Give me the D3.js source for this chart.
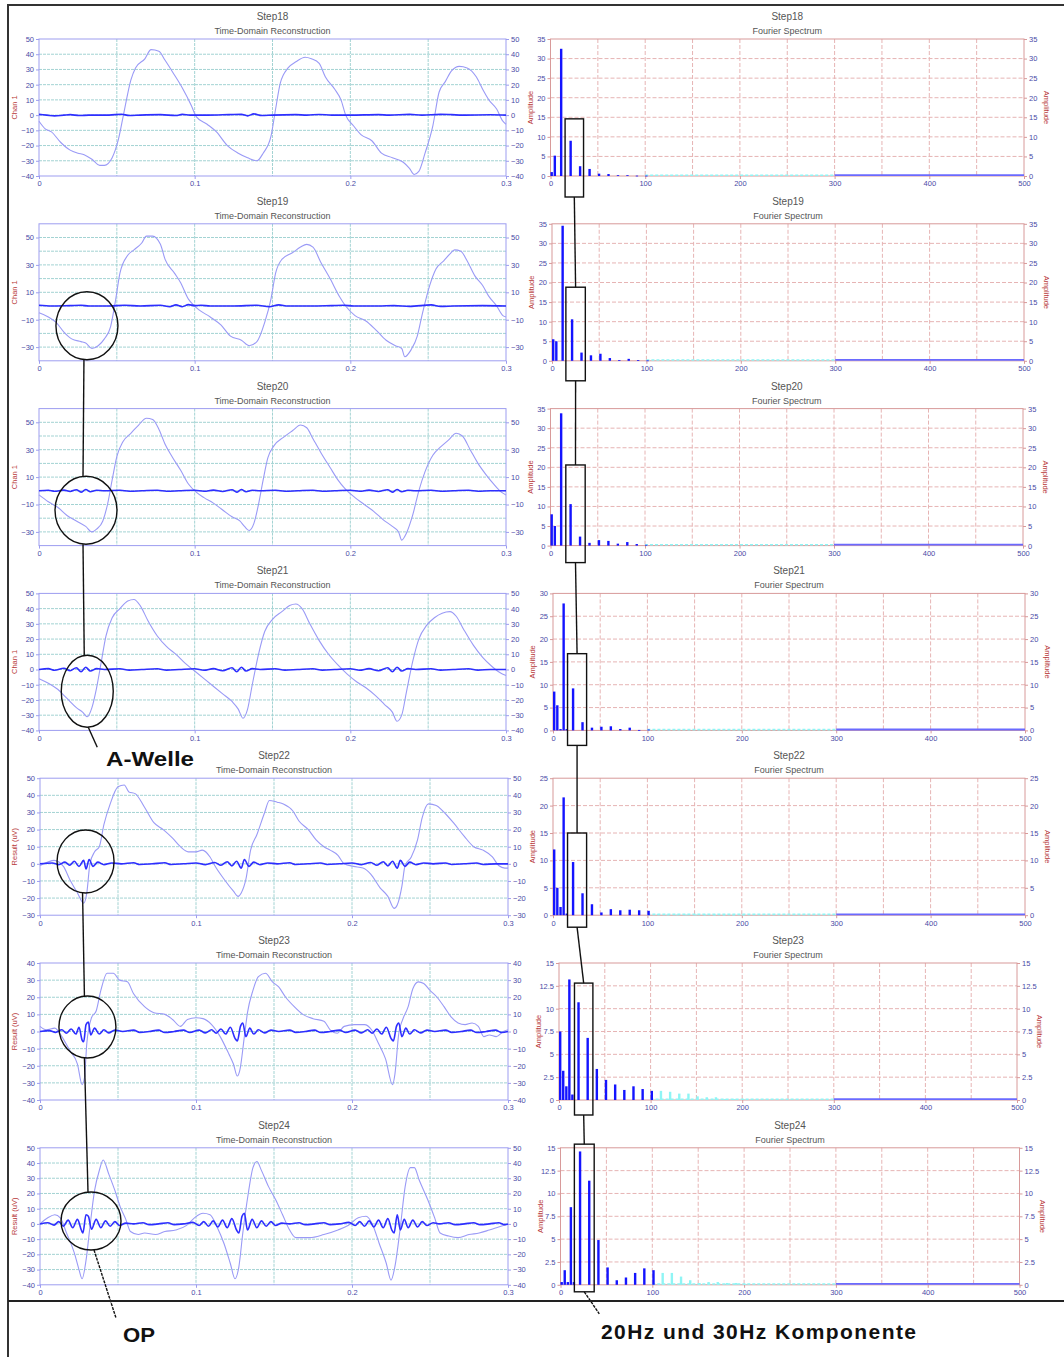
<!DOCTYPE html>
<html>
<head>
<meta charset="utf-8">
<script src="https://cdn.jsdelivr.net/npm/d3@7"></script>
<style>
body{margin:0;background:#fff}
text{font-family:"Liberation Sans",Arial,sans-serif}
</style>
</head>
<body>
<svg id="chart" width="1064" height="1357"></svg>
<script>
// ---- data ----
var stepNames=["Step18","Step19","Step20","Step21","Step22","Step23","Step24"];
var timeYTitles=["Chan 1","Chan 1","Chan 1","Chan 1","Result (uV)","Result (uV)","Result (uV)"];
var timeYDomains=[[-40,50],[-40,60],[-40,60],[-40,50],[-30,50],[-40,40],[-40,50]];
var timeYTicks=[
  [-40,-30,-20,-10,0,10,20,30,40,50],
  [-30,-10,10,30,50],
  [-30,-10,10,30,50],
  [-40,-30,-20,-10,0,10,20,30,40,50],
  [-30,-20,-10,0,10,20,30,40,50],
  [-40,-30,-20,-10,0,10,20,30,40],
  [-40,-30,-20,-10,0,10,20,30,40,50]];
var timeXTicks=[0,0.1,0.2,0.3];
var timeGridX=[0.05,0.1,0.15,0.2,0.25];

var specYDomains=[[0,35],[0,35],[0,35],[0,30],[0,25],[0,15],[0,15]];
var specYTicks=[
  [0,5,10,15,20,25,30,35],[0,5,10,15,20,25,30,35],[0,5,10,15,20,25,30,35],
  [0,5,10,15,20,25,30],[0,5,10,15,20,25],
  [0,2.5,5,7.5,10,12.5,15],[0,2.5,5,7.5,10,12.5,15]];
var specXTicks=[0,100,200,300,400,500];
var specGridX=[50,100,150,200,250,300,350,400,450];

// spectrum bins (Hz) and amplitudes per step
var freqBins=[0,3.3,6.7,10,13.3,20,30,40,50,60,70,80,90,100,110,120,130,140,150,160,170,180,190,200];
var amp18=[1.0,5.2,0,32.5,0,9.0,2.5,1.8,0.6,0.5,0.2,0.2,0.1,0.1,0,0,0,0,0,0,0,0,0,0];
var amp19=[5.5,5.0,0,34.5,0,10.6,2.1,1.4,1.8,0.7,0.2,0.5,0.2,0.1,0,0,0,0,0,0,0,0,0,0];
var amp20=[8.0,5.0,0,33.8,0,10.6,2.3,0.7,1.4,1.2,0.5,0.9,0.4,0.2,0,0,0,0,0,0,0,0,0,0];
var amp21=[8.5,5.5,0.3,27.8,0.3,9.2,1.8,0.6,0.8,0.9,0.3,0.6,0.1,0.2,0,0,0,0,0,0,0,0,0,0];
var amp22=[12,5,1.5,21.5,0.3,9.7,4.0,2.0,0.5,1.1,0.9,1.0,0.9,0.8,0.2,0.1,0.1,0.1,0.1,0.1,0.1,0.1,0.1,0.1];
var amp23=[7.5,3.2,1.5,13.2,0.6,10.7,6.8,3.4,2.2,1.7,1.1,1.5,1.2,1.0,1.0,0.9,0.7,0.7,0.4,0.3,0.3,0.1,0.1,0.1];
var amp24=[0.3,1.6,0.3,8.5,0.3,14.6,11.4,4.9,1.9,0.5,0.8,1.3,1.8,1.6,1.3,1.3,0.9,0.5,0.2,0.3,0.3,0.2,0.2,0.1];
var cyanBand=[100,300];
var blueBand=[300,500];

// raw time-domain signal, [ms, value]
var wave18=[[0,-4],[4,-9],[8,-11],[14,-18],[20,-23],[25,-25],[29,-26],[34,-29],[39,-33],[42,-33],[47,-28],[51,-16],[55,4],[59,23],[62,31],[68,37],[72,43],[77,42],[81,36],[86,28],[92,18],[98,6],[101,-1],[108,-6],[114,-11],[121,-20],[128,-25],[134,-28],[140,-30],[144,-25],[149,-14],[152,4],[155,21],[160,31],[165,35],[171,38],[175,37],[180,34],[184,25],[190,17],[194,10],[197,0],[202,-7],[207,-13],[214,-17],[220,-25],[227,-28],[234,-31],[238,-35],[241,-39],[244,-37],[248,-25],[253,-7],[257,15],[261,22],[265,29],[270,32],[275,31],[281,25],[285,17],[289,10],[294,4],[298,-4],[300,-6]];
var wave19=[[0,-5],[6,-8],[11,-12],[16,-19],[21,-24],[27,-26],[30,-27],[34,-31],[38,-29],[42,-24],[46,-15],[49,3],[52,24],[57,37],[61,41],[66,46],[69,51],[73,51],[78,45],[81,34],[87,24],[91,17],[96,5],[99,1],[103,-3],[110,-8],[117,-14],[123,-22],[130,-25],[135,-29],[140,-26],[145,-12],[149,5],[152,24],[156,34],[163,39],[168,43],[172,45],[176,43],[181,32],[187,20],[193,7],[197,0],[203,-7],[210,-11],[216,-17],[223,-25],[229,-29],[233,-31],[235,-37],[239,-32],[243,-22],[246,-7],[251,15],[255,27],[260,33],[264,38],[267,41],[271,40],[275,33],[280,22],[285,15],[289,7],[294,0],[298,-7],[300,-8]];
var wave20=[[0,-3],[6,-8],[12,-12],[18,-18],[24,-22],[30,-26],[34,-30],[37,-28],[41,-22],[44,-10],[47,8],[50,25],[54,36],[59,42],[64,48],[69,53],[73,52],[77,45],[81,34],[86,24],[91,15],[96,5],[101,-1],[106,-5],[112,-9],[118,-14],[124,-19],[129,-22],[132,-26],[135,-29],[138,-24],[141,-10],[144,8],[147,24],[151,33],[157,39],[163,44],[168,48],[172,46],[176,38],[181,28],[187,17],[192,8],[197,1],[203,-5],[209,-10],[215,-15],[221,-21],[227,-26],[231,-30],[233,-36],[236,-31],[240,-18],[244,0],[248,14],[253,26],[258,32],[263,37],[268,42],[272,40],[277,30],[282,20],[287,12],[292,5],[297,-1],[300,-3]];
var wave21=[[0,-6],[6,-9],[12,-13],[18,-19],[24,-25],[28,-28],[31,-31],[34,-25],[37,-12],[40,5],[43,22],[47,34],[52,40],[57,45],[61,46],[65,42],[70,32],[76,22],[82,15],[88,10],[94,4],[100,-1],[106,-6],[112,-11],[118,-16],[124,-21],[128,-26],[131,-32],[134,-26],[137,-10],[141,10],[145,25],[150,33],[156,38],[161,42],[165,43],[169,40],[174,30],[180,19],[186,10],[192,3],[198,-3],[204,-8],[210,-12],[216,-17],[222,-23],[227,-28],[230,-34],[233,-30],[236,-15],[240,5],[244,20],[249,29],[254,34],[259,37],[264,38],[268,35],[273,26],[279,16],[285,8],[291,2],[296,-2],[300,-4]];
var wave22=[[0,-1],[5,1],[9,2],[15,-1.5],[19,-9],[24,-17],[28,-23],[30,-17],[32,0],[35,7],[38,10],[41,23],[45,35],[50,45],[54,46],[57,42],[61,41],[67,33],[73,24],[79,20],[85,15],[90,10],[95,7],[100,7],[104,8],[109,4],[112,-1],[118,-9],[124,-16],[127,-19],[129,-17],[132,-9],[135,8],[139,17],[144,30],[147,37],[152,36],[156,35],[162,31],[166,25],[172,20],[177,14],[182,10],[186,8],[191,5],[195,0],[201,-1.5],[207,-2.5],[212,-6],[218,-14],[223,-19],[227,-26],[229,-24],[232,-13],[234,-1],[238,4],[242,14],[245,27],[249,35],[254,34],[258,31],[265,24],[272,16],[278,10],[284,8],[290,4],[294,-1],[298,-2.5],[300,-2.5]];
var wave23=[[0,3],[4,1],[9.5,2],[14,-3],[19,-11],[24,-19],[27,-31],[28.5,-27],[30,-7],[33,8],[36,12],[39,24],[43,34],[47,34],[51,30],[56,29],[60,22],[67,14.5],[73,11],[80,10],[85,7],[90,3],[94.5,7],[100,8],[104.5,7.5],[110,4],[115.5,-3],[121,-13],[124,-19],[126.5,-26],[128,-23],[131,-3],[133,11],[136.5,24],[140,32],[144.5,34],[149,29],[153,26],[157.5,20],[163,14.5],[168.5,10],[175,7.5],[182,6],[186,1],[190.5,-1],[195,3],[201.5,4],[208,4],[212.5,1],[217,-7],[221.5,-16],[226,-31],[227.5,-25],[230,-1],[232.5,7],[236,14.5],[239,25],[242.5,29],[246,28],[250,24],[254.5,20],[259,14.5],[263.5,8.5],[268,5],[272.5,4],[277,5],[281,3],[284.5,-3],[288,-2],[292.5,-3],[297,0],[300,1]];
var wave24=[[0,0],[5,4],[9.5,6],[13,4],[17,-6],[22,-19],[25,-30],[27,-36],[29.5,-24],[32,-2],[35,22],[38,35],[40.5,42],[44,33],[48,22],[51.5,11],[55,3],[58,-5],[63,-7],[67,-6],[74,-7],[80,-5],[87,-4],[94,-1],[99,4],[104.5,7],[109,6],[113.5,-2],[118,-13],[122,-26],[125,-36],[127.5,-28],[130,-6],[133.5,20],[136.5,37],[139,41],[142,35],[146.5,24.5],[151,16],[155.5,6],[160,-4],[164,-9],[173,-9],[182,-7],[191,-4],[197.5,-1],[204,4],[209,5],[213,0],[217.5,-13],[222,-26],[225,-37],[227.5,-28],[231,-2],[234,24],[237.5,37],[240,37],[243,29],[248.5,16],[253,4],[256.5,-6],[262,-8],[268,-9],[275,-7],[281.5,-6],[288,-4],[294,-2],[297,-1],[300,0]];

// filtered (oscillatory potential) trace, [ms, value]
var op18=[[0,0.5],[5,0],[10,-0.5],[16,0],[20,0.3],[26,-0.3],[32,0],[45,0],[53,0.6],[58,-0.3],[65,0],[78,0.3],[88,-0.3],[92,0.5],[97,0],[108,0],[122,0.3],[130,0.5],[134,-0.5],[138,0.8],[143,-0.3],[150,0],[165,0.3],[172,0],[180,0.4],[188,0],[200,0],[218,0.3],[225,0],[238,0.5],[246,0],[258,0.5],[265,0.3],[272,0],[290,0.2],[300,0]];
var op19=[[0,0.5],[8,0],[20,0.3],[27,0.5],[32,0],[45,0],[55,0.5],[65,0],[78,0.5],[84,-0.5],[88,0.8],[92,-0.5],[96,1],[100,0.3],[104,0.5],[110,0],[125,0],[140,0.5],[148,-0.5],[154,0.8],[160,0],[175,0],[188,0.3],[196,0.5],[202,0],[218,0],[228,0.3],[238,-0.3],[252,0.8],[258,-0.3],[266,0],[285,0.3],[300,0]];
var op20=[[0,0],[6,0.4],[10,-0.3],[16,0.5],[20,-0.5],[24,0.8],[27,-1],[30,1],[33,-0.7],[37,0.4],[42,0],[52,0.4],[58,-0.3],[66,0],[76,0.4],[82,-0.3],[90,0],[100,0.4],[106,-0.3],[112,0.5],[118,-0.5],[124,0.8],[127,-1],[130,1],[133,-0.7],[137,0.4],[142,0],[152,0.4],[158,-0.3],[166,0],[176,0.4],[182,-0.3],[190,0],[200,0.4],[206,-0.3],[212,0.5],[218,-0.5],[224,0.8],[227,-1],[230,1],[233,-0.7],[237,0.4],[242,0],[252,0.4],[258,-0.3],[266,0],[276,0.4],[282,-0.3],[290,0],[300,0]];
var op21=[[0,0],[6,0.6],[10,-0.5],[16,0.8],[20,-0.8],[24,1.2],[27,-1.5],[30,1.5],[33,-1],[37,0.6],[42,0],[52,0.5],[58,-0.4],[66,0],[76,0.5],[82,-0.4],[90,0],[100,0.5],[106,-0.5],[112,0.6],[118,-0.8],[124,1.2],[127,-1.5],[130,1.5],[133,-1],[137,0.6],[142,0],[152,0.5],[158,-0.4],[166,0],[176,0.5],[182,-0.4],[190,0],[200,0.5],[206,-0.5],[212,0.6],[218,-0.8],[224,1.2],[227,-1.5],[230,1.5],[233,-1],[237,0.6],[242,0],[252,0.5],[258,-0.4],[266,0],[276,0.5],[282,-0.4],[290,0],[300,0]];
var op22=[[0,0],[8,0.5],[12,-0.5],[16,1],[19,-0.8],[22,1.5],[25,-1.5],[28,2],[29.5,-3],[31.5,2.5],[34,-1.5],[37,1],[41,-0.5],[46,0.5],[52,0],[60,0.6],[64,-0.4],[72,0],[80,0.6],[84,-0.4],[92,0],[100,0.5],[106,-0.5],[112,0.8],[116,-0.8],[120,1.2],[123,-1.2],[126,1.5],[129,-2.5],[131,2.5],[134,-1.5],[137,1],[141,-0.5],[146,0.5],[152,0],[160,0.6],[164,-0.4],[172,0],[180,0.5],[184,-0.4],[192,0],[200,0.5],[206,-0.5],[212,0.8],[216,-0.8],[220,1.2],[223,-1.2],[226,1.5],[229,-2.5],[231,2],[234,-1.5],[237,1],[241,-0.5],[246,0.5],[252,0],[260,0.5],[264,-0.4],[272,0],[280,0.5],[284,-0.4],[292,0],[300,0]];
var op23=[[0,0],[6,0.5],[10,-0.5],[14,1],[17,-1],[20,1.5],[23,-1.5],[25,2.5],[27,-5],[28,-6],[29.5,4],[31,5.5],[32.5,-2],[35,2],[38,-1.5],[41,1],[44,-0.8],[48,0.8],[53,0],[60,0.8],[64,-0.5],[70,0],[76,0.8],[80,-0.6],[86,0],[92,0.8],[96,-0.6],[102,0.8],[106,-0.8],[110,1],[113,-1],[116,1.5],[119,-1.5],[122,2.5],[125,-4],[126.5,-5.5],[128.5,3],[130,5],[132,-3],[134.5,2],[137,-1.5],[140,1],[144,-0.8],[148,0.8],[153,0],[160,0.8],[164,-0.5],[170,0],[176,0.8],[180,-0.6],[186,0],[192,0.8],[196,-0.6],[202,0.8],[206,-0.8],[210,1],[213,-1],[216,1.5],[219,-1.5],[222,2.5],[225,-4],[226.5,-5.5],[228.5,3],[230,5],[232,-3],[234.5,2],[237,-1.5],[240,1],[244,-0.8],[248,0.8],[253,0],[260,0.8],[264,-0.5],[270,0],[276,0.8],[280,-0.6],[286,0],[292,0.8],[296,-0.6],[300,0]];
var op24=[[0,0],[5,0.8],[9,-0.8],[12,1.5],[15,-1.5],[18,2.5],[21,-2.5],[24,3],[26.5,-4],[27.5,-6],[29.5,6],[31,5],[33,-3.5],[36,3],[39,-2.5],[42,2],[45,-1.5],[48,1.5],[51,-1],[55,0.5],[60,0],[66,0.8],[70,-0.5],[76,0],[82,0.8],[86,-0.5],[92,0],[98,1],[102,-1],[105,1.5],[108,-1.5],[111,2],[114,-2],[117,2.5],[120,-2.5],[123,3.5],[126,-4],[127.5,-6],[129.5,5],[131,7],[133,-4],[136,3],[139,-2.5],[142,2],[145,-1.5],[148,1.5],[151,-1],[155,0.5],[160,0],[166,0.8],[170,-0.5],[176,0],[182,0.8],[186,-0.5],[192,0],[198,1],[202,-1],[205,1.5],[208,-1.5],[211,2],[214,-2],[217,2.5],[220,-2.5],[223,3.5],[225.5,-4],[227,-6],[229,6],[231,-4],[233.5,3],[236,-2.5],[239,2.5],[242,-2],[245,1.5],[248,-1],[252,0.8],[256,0],[262,0.8],[266,-0.5],[272,0],[278,0.8],[282,-0.5],[288,0],[294,0.8],[298,-0.5],[300,0]];

var waves=[wave18,wave19,wave20,wave21,wave22,wave23,wave24];
var ops=[op18,op19,op20,op21,op22,op23,op24];
var amps=[amp18,amp19,amp20,amp21,amp22,amp23,amp24];

// annotations: circle [t, value, rx, ry] on the time panels, box [f0, f1, ampTop, px below axis] on spectra
var waveCircles=[null,[0.0308,-14.4,31,34],[0.0302,-14.2,31,34],[0.031,-14.3,26,36],[0.0292,1.4,28.5,31.5],[0.0304,2.6,28.5,31],[0.0327,1.9,30,29]];
var specBoxes=[[15.4,34.9,14.6,21],[14.7,35.3,18.8,20],[16.2,36.7,20.6,17],[15.4,35.6,16.8,15],[15.4,35.6,15,12],[16.9,37,12.8,15],[15.1,36.7,15.4,7]];

// ---- layout ----
var rowTop=39, rowStep=184.8, plotH=137;
var leftX=[39,39,39,39,40,40,40], leftR=[506,506,506,506,508,508,508];
var specL=[550.5,552,550.5,553,553,559,560.5], specR=[1024,1024,1023,1025,1025,1017,1019.5];

var C={
  tBorder:"#9d9df0", tGrid:"#a3d3d3", tick:"#4a4aa6", axisTitle:"#b83a3a",
  sBorder:"#d89a9a", sGrid:"#e6b4b4", title:"#555",
  wave:"#9a9af6", op:"#2e2eff", bar:"#1414ff", cyan:"#8ff5f5"
};

var svg=d3.select("#chart");
var circlePx=[], boxPx=[];

function styleAxis(sel,color){
  sel.select(".domain").remove();
  sel.selectAll(".tick line").attr("stroke",color);
  sel.selectAll(".tick text").attr("fill",C.tick).attr("font-size","7.5px")
    .attr("font-family","'Liberation Sans',Arial,sans-serif");
}

function drawTime(i){
  var top=rowTop+rowStep*i, bottom=top+plotH;
  var dom=timeYDomains[i];
  var x=d3.scaleLinear().domain([0,0.3]).range([leftX[i],leftR[i]]);
  var y=d3.scaleLinear().domain(dom).range([bottom,top]);
  var g=svg.append("g").attr("id","time"+stepNames[i]);

  g.selectAll(".hg").data(d3.range(dom[0]+10,dom[1],10)).enter().append("line")
    .attr("x1",x(0)).attr("x2",x(0.3)).attr("y1",function(d){return y(d);}).attr("y2",function(d){return y(d);})
    .attr("stroke",C.tGrid).attr("stroke-dasharray","3,1");
  g.selectAll(".vg").data(timeGridX).enter().append("line")
    .attr("y1",top).attr("y2",bottom).attr("x1",function(d){return x(d);}).attr("x2",function(d){return x(d);})
    .attr("stroke",C.tGrid).attr("stroke-dasharray","3,1");
  g.append("rect").attr("x",x(0)).attr("y",top).attr("width",x(0.3)-x(0)).attr("height",plotH)
    .attr("fill","none").attr("stroke",C.tBorder);

  var ax=g.append("g").attr("transform","translate("+x(0)+",0)")
    .call(d3.axisLeft(y).tickValues(timeYTicks[i]).tickSize(3).tickPadding(2));
  styleAxis(ax,C.tBorder);
  var ax2=g.append("g").attr("transform","translate("+x(0.3)+",0)")
    .call(d3.axisRight(y).tickValues(timeYTicks[i]).tickSize(3).tickPadding(2));
  styleAxis(ax2,C.tBorder);
  var axb=g.append("g").attr("transform","translate(0,"+bottom+")")
    .call(d3.axisBottom(x).tickValues(timeXTicks).tickSize(3).tickPadding(2).tickFormat(function(d){return d===0?"0":String(d);}));
  styleAxis(axb,C.tBorder);

  var line=d3.line().x(function(d){return x(d[0]/1000);}).y(function(d){return y(d[1]);}).curve(d3.curveMonotoneX);
  g.append("path").datum(waves[i]).attr("d",line)
    .attr("fill","none").attr("stroke",C.wave).attr("stroke-width",1.1);
  g.append("path").datum(ops[i]).attr("d",line)
    .attr("fill","none").attr("stroke",C.op).attr("stroke-width",1.6).attr("stroke-linejoin","round");

  g.append("text").attr("x",(x(0)+x(0.3))/2).attr("y",top-19).attr("text-anchor","middle")
    .attr("font-size","10px").attr("fill",C.title).text(stepNames[i]);
  g.append("text").attr("x",(x(0)+x(0.3))/2).attr("y",top-5).attr("text-anchor","middle")
    .attr("font-size","9px").attr("fill",C.title).text("Time-Domain Reconstruction");
  g.append("text").attr("transform","translate(17,"+(top+plotH/2)+") rotate(-90)")
    .attr("text-anchor","middle").attr("font-size","7.5px").attr("fill",C.axisTitle).text(timeYTitles[i]);

  var c=waveCircles[i];
  if(c){
    circlePx[i]={cx:x(c[0]),cy:y(c[1]),rx:c[2],ry:c[3]};
  }
}

function drawSpec(i){
  var top=rowTop+rowStep*i, bottom=top+plotH;
  var dom=specYDomains[i];
  var x=d3.scaleLinear().domain([0,500]).range([specL[i],specR[i]]);
  var y=d3.scaleLinear().domain(dom).range([bottom,top]);
  var g=svg.append("g").attr("id","spec"+stepNames[i]);

  g.selectAll(".hg").data(specYTicks[i].slice(1,-1)).enter().append("line")
    .attr("x1",x(0)).attr("x2",x(500)).attr("y1",function(d){return y(d);}).attr("y2",function(d){return y(d);})
    .attr("stroke",C.sGrid).attr("stroke-dasharray","4,2");
  g.selectAll(".vg").data(specGridX).enter().append("line")
    .attr("y1",top).attr("y2",bottom).attr("x1",function(d){return x(d);}).attr("x2",function(d){return x(d);})
    .attr("stroke",C.sGrid).attr("stroke-dasharray","4,2");
  g.append("rect").attr("x",x(0)).attr("y",top).attr("width",x(500)-x(0)).attr("height",plotH)
    .attr("fill","none").attr("stroke",C.sBorder);

  var fmt=function(d){return String(d);};
  var ax=g.append("g").attr("transform","translate("+x(0)+",0)")
    .call(d3.axisLeft(y).tickValues(specYTicks[i]).tickSize(3).tickPadding(2).tickFormat(fmt));
  styleAxis(ax,C.sBorder);
  var ax2=g.append("g").attr("transform","translate("+x(500)+",0)")
    .call(d3.axisRight(y).tickValues(specYTicks[i]).tickSize(3).tickPadding(2).tickFormat(fmt));
  styleAxis(ax2,C.sBorder);
  var axb=g.append("g").attr("transform","translate(0,"+bottom+")")
    .call(d3.axisBottom(x).tickValues(specXTicks).tickSize(3).tickPadding(2).tickFormat(fmt));
  styleAxis(axb,C.sBorder);

  // low level floor: cyan dashes then a blue band
  g.append("line").attr("x1",x(cyanBand[0])).attr("x2",x(cyanBand[1])).attr("y1",bottom-0.8).attr("y2",bottom-0.8)
    .attr("stroke",C.cyan).attr("stroke-width",1.6).attr("stroke-dasharray","3,2");
  g.append("line").attr("x1",x(blueBand[0])).attr("x2",x(blueBand[1])).attr("y1",bottom-0.9).attr("y2",bottom-0.9)
    .attr("stroke","#6a6aff").attr("stroke-width",1.8);

  var bars=freqBins.map(function(f,k){return {f:f,a:amps[i][k]};}).filter(function(d){return d.a>0;});
  g.selectAll(".bar").data(bars).enter().append("rect")
    .attr("x",function(d){return x(d.f);}).attr("width",2.4)
    .attr("y",function(d){return y(d.a);}).attr("height",function(d){return Math.max(0.8,bottom-y(d.a));})
    .attr("fill",function(d){return d.f>100?C.cyan:C.bar;});

  var cx=(x(0)+x(500))/2;
  g.append("text").attr("x",cx).attr("y",top-19).attr("text-anchor","middle")
    .attr("font-size","10px").attr("fill",C.title).text(stepNames[i]);
  g.append("text").attr("x",cx).attr("y",top-5).attr("text-anchor","middle")
    .attr("font-size","9px").attr("fill",C.title).text("Fourier Spectrum");
  g.append("text").attr("transform","translate("+(x(0)-18)+","+(top+plotH/2)+") rotate(-90)")
    .attr("text-anchor","middle").attr("font-size","7.5px").attr("fill",C.axisTitle).text("Amplitude");
  g.append("text").attr("transform","translate("+(x(500)+20)+","+(top+plotH/2)+") rotate(90)")
    .attr("text-anchor","middle").attr("font-size","7.5px").attr("fill",C.axisTitle).text("Amplitude");

  var b=specBoxes[i];
  boxPx[i]={x0:x(b[0]),x1:x(b[1]),y0:y(b[2]),y1:bottom+b[3]};
}

for(var i=0;i<stepNames.length;i++){ drawTime(i); drawSpec(i); }

// ---- annotations ----
var ann=svg.append("g").attr("id","annotations").attr("fill","none").attr("stroke","#111").attr("stroke-width",1.4);
circlePx.forEach(function(c){
  if(!c) return;
  ann.append("ellipse").attr("cx",c.cx).attr("cy",c.cy).attr("rx",c.rx).attr("ry",c.ry);
});
function circleLink(a,b){
  var A=circlePx[a], B=circlePx[b];
  ann.append("line").attr("x1",A.cx-3).attr("y1",A.cy+A.ry).attr("x2",B.cx-3).attr("y2",B.cy-B.ry);
}
circleLink(1,2); circleLink(2,3); circleLink(4,5); circleLink(5,6);
ann.append("line").attr("x1",circlePx[3].cx+1).attr("y1",circlePx[3].cy+circlePx[3].ry)
  .attr("x2",circlePx[3].cx+10).attr("y2",circlePx[3].cy+circlePx[3].ry+20);
ann.append("line").attr("x1",circlePx[6].cx+3).attr("y1",circlePx[6].cy+circlePx[6].ry)
  .attr("x2",circlePx[6].cx+25).attr("y2",circlePx[6].cy+circlePx[6].ry+68).attr("stroke-dasharray","3,1");

boxPx.forEach(function(b){
  ann.append("rect").attr("x",b.x0).attr("y",b.y0).attr("width",b.x1-b.x0).attr("height",b.y1-b.y0);
});
for(var k=0;k<boxPx.length-1;k++){
  var A=boxPx[k], B=boxPx[k+1];
  ann.append("line").attr("x1",(A.x0+A.x1)/2).attr("y1",A.y1).attr("x2",(B.x0+B.x1)/2).attr("y2",B.y0);
}
var last=boxPx[6];
ann.append("line").attr("x1",(last.x0+last.x1)/2).attr("y1",last.y1)
  .attr("x2",(last.x0+last.x1)/2+15).attr("y2",last.y1+22).attr("stroke-dasharray","3,1");

var lab=svg.append("g").attr("font-weight","bold").attr("fill","#111");
lab.append("text").attr("x",106).attr("y",766).attr("font-size","20px").attr("textLength",88).attr("lengthAdjust","spacingAndGlyphs").text("A-Welle");
lab.append("text").attr("x",123).attr("y",1342).attr("font-size","21px").attr("textLength",32).attr("lengthAdjust","spacingAndGlyphs").text("OP");
lab.append("text").attr("x",601).attr("y",1339).attr("font-size","21px").attr("textLength",315).attr("lengthAdjust","spacing").text("20Hz und 30Hz Komponente");

// ---- frame ----
svg.append("path").attr("d","M8,1357V5H1064").attr("fill","none").attr("stroke","#333").attr("stroke-width",2);
svg.append("line").attr("x1",8).attr("x2",1064).attr("y1",1301).attr("y2",1301).attr("stroke","#222").attr("stroke-width",2);
</script>
</body>
</html>
